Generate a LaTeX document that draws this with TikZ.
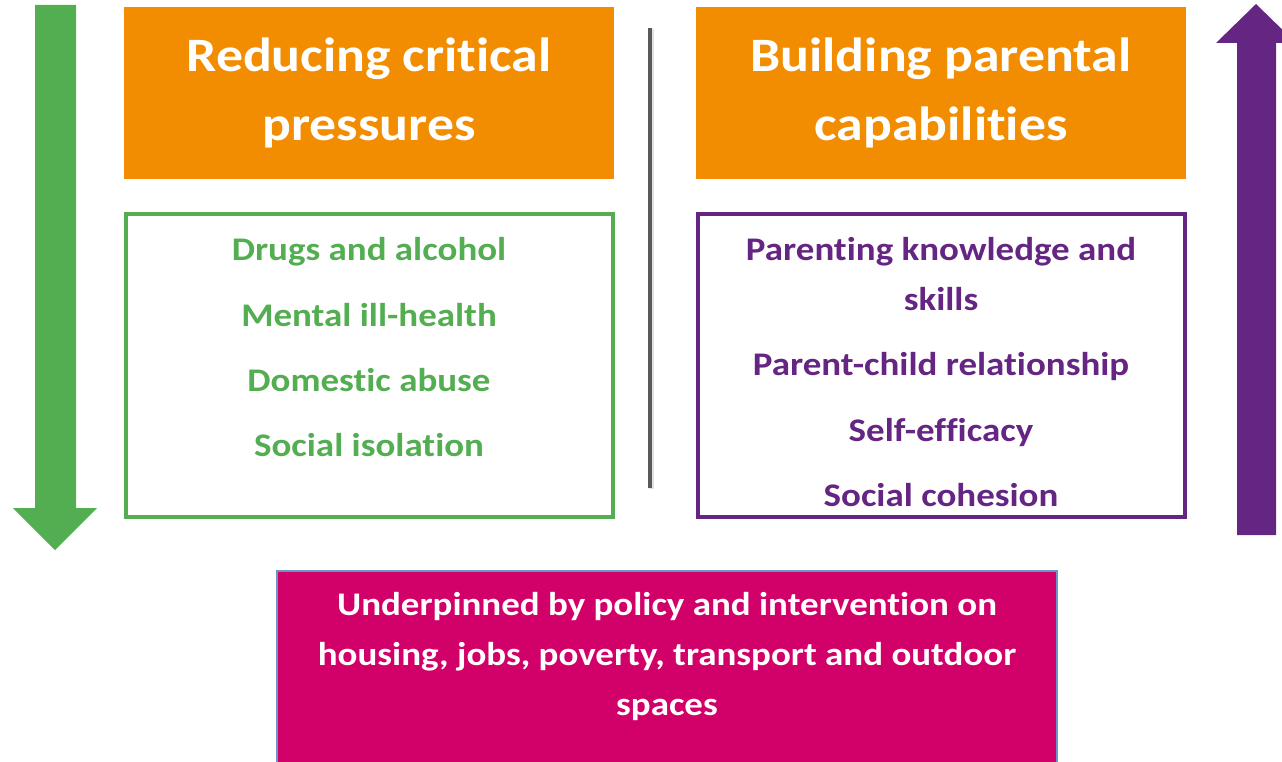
\documentclass[tikz,border=0pt]{standalone}
\usepackage{fontspec}
\setmainfont{Carlito}[Ligatures={NoCommon},FakeStretch=1.12]
\usepackage{xcolor}
\definecolor{pgreen}{HTML}{52AE50}
\definecolor{porange}{HTML}{F28C00}
\definecolor{ppurple}{HTML}{652582}
\definecolor{pmagenta}{HTML}{D20069}
\definecolor{pgrey}{HTML}{595959}
\definecolor{pblue}{HTML}{6A96C8}

\begin{document}
\begin{tikzpicture}[x=1pt,y=-1pt,node distance=572pt,
    title box/.style={fill=porange,minimum width=490pt,minimum height=172pt,inner sep=0pt,text=white,align=center,font=\fontsize{48}{69}\selectfont\bfseries},
    list box/.style={draw,line width=4pt,minimum width=487pt,minimum height=303pt,inner sep=0pt},
    item/.style={anchor=base,align=center,font=\fontsize{33}{50}\selectfont\bfseries}]

                \useasboundingbox (0,0) rectangle (1282,762);

                % big arrows at the sides
                \fill[pgreen] (35,5) -- (76,5) -- (76,508) -- (97,508) -- (55,550) -- (13,508) -- (35,508) -- cycle;
                \fill[ppurple] (1237,535) -- (1237,43) -- (1216,43) -- (1256,4) -- (1296,43) -- (1276,43) -- (1276,535) -- cycle;

                \node[title box] (t1) at (369,93) {Reducing critical\\pressures};
                \node[title box] (t2) [right of = t1] {Building parental\\capabilities};
                \node[list box, pgreen] (g1) [node distance=272.5pt, below of = t1] {};
                \node[list box, ppurple] (p1) [node distance=272.5pt, below of = t2] {};

                % divider
                \coordinate (d1) at (650,28);
                \coordinate (d2) at (650,488);
                \draw[pgrey!60, line width=5pt, opacity=0.3] ([xshift=1pt,yshift=-1pt]d1) -- ([xshift=1pt,yshift=-1pt]d2);
                \draw[pgrey, line width=4pt] (d1) -- (d2);

                \node[item, pgreen] (g2) at (369,260) {Drugs and alcohol};
                \node[item, pgreen] (g3) at (369,326) {Mental ill-health};
                \node[item, pgreen] (g4) at (369,391) {Domestic abuse};
                \node[item, pgreen] (g5) at (369,456) {Social isolation};

                % base of a two-line node sits on its last line
                \node[item, ppurple] (p2) at (941,310) {Parenting knowledge and\\skills};
                \node[item, ppurple] (p3) at (941,375) {Parent-child relationship};
                \node[item, ppurple] (p4) at (941,441) {Self-efficacy};
                \node[item, ppurple] (p5) at (941,506) {Social cohesion};

                % bottom box
                \node[fill=pmagenta, draw=pblue, line width=1.5pt, minimum width=780pt, minimum height=230pt, inner sep=0pt] (m1) at (667,686) {};
                \node[item, white] (m2) at (667,715) {Underpinned by policy and intervention on\\housing, jobs, poverty, transport and outdoor\\spaces};

                ;
            \end{tikzpicture}
\end{document}
